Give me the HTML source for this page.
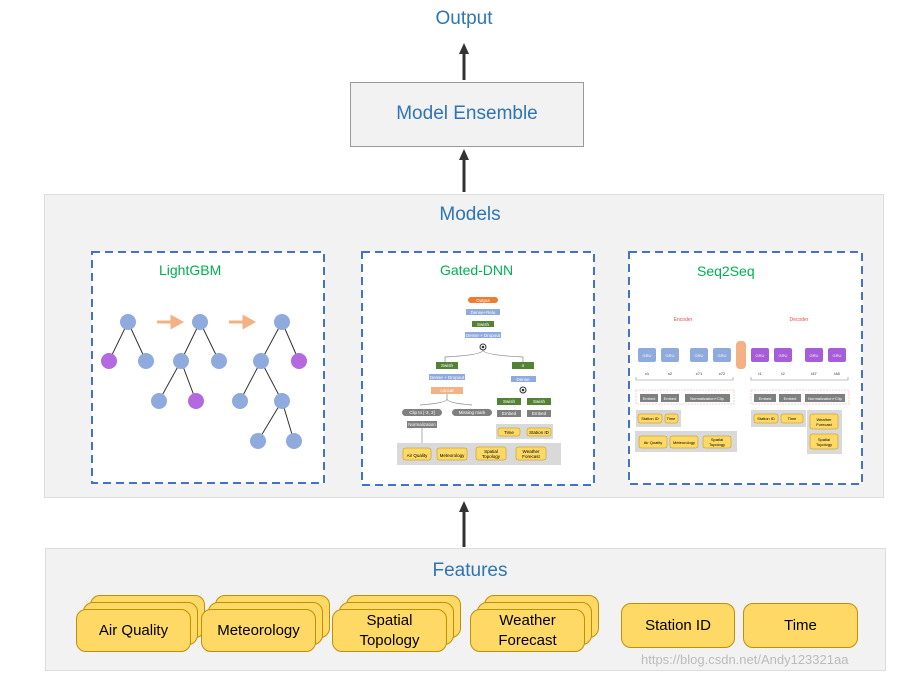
<!DOCTYPE html>
<html><head><meta charset="utf-8"><style>
body{margin:0;width:903px;height:678px;background:#fff;position:relative;overflow:hidden;font-family:"Liberation Sans",sans-serif}
.a{position:absolute}
.t{color:#2E75B6;font-size:19px;text-align:center}
.panel{background:#f2f2f2;border:1px solid #dcdcdc}
.f{position:absolute;background:#FFD966;border:1px solid #BF9000;border-radius:10px;box-sizing:border-box}
.fl{display:flex;align-items:center;justify-content:center;text-align:center;font-size:15px;color:#000;line-height:20px}
</style></head><body>
<div class="a t" style="left:364px;top:8px;width:200px">Output</div>
<svg class="a" style="left:0;top:0" width="903" height="678">
<defs><marker id="ah" markerUnits="userSpaceOnUse" markerWidth="12" markerHeight="12" refX="2" refY="6" orient="auto"><path d="M0,1 L11,6 L0,11z" fill="#333"/></marker></defs>
<line x1="464" y1="80" x2="464" y2="52" stroke="#333" stroke-width="3" marker-end="url(#ah)"/>
<line x1="464" y1="192" x2="464" y2="158" stroke="#333" stroke-width="3" marker-end="url(#ah)"/>
<line x1="464" y1="547" x2="464" y2="510" stroke="#333" stroke-width="3" marker-end="url(#ah)"/>
</svg>
<div class="a" style="left:350px;top:82px;width:232px;height:63px;background:#f2f2f2;border:1px solid #999"></div>
<div class="a t" style="left:350px;top:103px;width:234px">Model Ensemble</div>
<div class="a panel" style="left:44px;top:194px;width:838px;height:302px"></div>
<div class="a t" style="left:370px;top:204px;width:200px">Models</div>
<svg class="a" style="left:0;top:0" width="903" height="678">
<g fill="#fff" stroke="#4472C4" stroke-width="2" stroke-dasharray="8,5">
<rect x="92" y="252" width="232" height="231"/>
<rect x="362" y="252" width="232" height="233"/>
<rect x="629" y="252" width="233" height="232"/>
</g></svg>
<div class="a" style="left:159px;top:262px;color:#00B050;font-size:14px">LightGBM</div>
<div class="a" style="left:440px;top:262px;color:#00B050;font-size:14px">Gated-DNN</div>
<div class="a" style="left:697px;top:263px;color:#00B050;font-size:14px">Seq2Seq</div>
<svg class="a" style="left:0;top:0" width="903" height="678">
<g stroke="#333" stroke-width="1">
<line x1="128" y1="322" x2="109" y2="361"/><line x1="128" y1="322" x2="146" y2="361"/>
<line x1="200" y1="322" x2="181" y2="361"/><line x1="200" y1="322" x2="219" y2="361"/>
<line x1="181" y1="361" x2="159" y2="401"/><line x1="181" y1="361" x2="196" y2="401"/>
<line x1="282" y1="322" x2="261" y2="361"/><line x1="282" y1="322" x2="299" y2="361"/>
<line x1="261" y1="361" x2="240" y2="401"/><line x1="261" y1="361" x2="282" y2="401"/>
<line x1="282" y1="401" x2="258" y2="441"/><line x1="282" y1="401" x2="294" y2="441"/>
</g>
<g fill="#8FAADC">
<circle cx="128" cy="322" r="8"/><circle cx="146" cy="361" r="8"/>
<circle cx="200" cy="322" r="8"/><circle cx="181" cy="361" r="8"/><circle cx="219" cy="361" r="8"/><circle cx="159" cy="401" r="8"/>
<circle cx="282" cy="322" r="8"/><circle cx="261" cy="361" r="8"/><circle cx="240" cy="401" r="8"/><circle cx="282" cy="401" r="8"/><circle cx="258" cy="441" r="8"/><circle cx="294" cy="441" r="8"/>
</g>
<g fill="#B469E0"><circle cx="109" cy="361" r="8"/><circle cx="196" cy="401" r="8"/><circle cx="299" cy="361" r="8"/></g>
<g stroke="#F4B183" stroke-width="3" fill="#F4B183"><line x1="157" y1="322" x2="174" y2="322"/><path d="M172,317 L181,322 L172,327z"/>
<line x1="229" y1="322" x2="246" y2="322"/><path d="M244,317 L253,322 L244,327z"/></g>
<g font-size="4.5" fill="#fff" text-anchor="middle">
<rect x="468" y="297" width="30" height="6" rx="3" fill="#ED7D31"/><text x="483" y="302">Output</text>
<rect x="466" y="309" width="34" height="6" fill="#8FAADC"/><text x="483" y="314">Dense+Relu</text>
<rect x="472" y="321" width="22" height="6" fill="#548235"/><text x="483" y="326">Swish</text>
<rect x="465" y="332" width="36" height="6" fill="#8FAADC"/><text x="483" y="337">Dense + Dropout</text>
<circle cx="483" cy="347" r="3" fill="#fff" stroke="#333"/><circle cx="483" cy="347" r="1.3" fill="#333"/>
<path d="M483,350 Q483,355 445,357 L445,362 M483,350 Q483,355 523,357 L523,362" stroke="#888" fill="none" stroke-width=".7"/>
<rect x="436" y="362" width="22" height="7" fill="#548235"/><text x="447" y="367">Swish</text>
<rect x="429" y="374" width="36" height="6" fill="#8FAADC"/><text x="447" y="379">Dense + Dropout</text>
<rect x="431" y="387" width="32" height="7" fill="#F4B183"/><text x="447" y="392">concat</text>
<path d="M447,394 L447,399 Q447,403 420,405 M447,399 Q447,403 472,405" stroke="#888" fill="none" stroke-width=".7"/>
<rect x="402" y="409" width="40" height="7" rx="3.5" fill="#7f7f7f"/><text x="422" y="414">Clip to [-3, 3]</text>
<rect x="452" y="409" width="40" height="7" rx="3.5" fill="#7f7f7f"/><text x="472" y="414">Missing mark</text>
<rect x="407" y="421" width="30" height="7" fill="#7f7f7f"/><text x="422" y="426">Normalization</text>
<line x1="422" y1="428" x2="422" y2="443" stroke="#888" stroke-width=".7"/>
<rect x="512" y="362" width="22" height="7" fill="#548235"/><text x="523" y="367">σ</text>
<rect x="511" y="376" width="25" height="6" fill="#8FAADC"/><text x="523" y="381">Dense</text>
<circle cx="523" cy="390" r="3" fill="#fff" stroke="#333"/><circle cx="523" cy="390" r="1.3" fill="#333"/>
<rect x="497" y="398" width="24" height="7" fill="#548235"/><text x="509" y="403">Swish</text>
<rect x="527" y="398" width="24" height="7" fill="#548235"/><text x="539" y="403">Swish</text>
<rect x="497" y="410" width="24" height="7" fill="#7f7f7f"/><text x="509" y="415">Embed</text>
<rect x="527" y="410" width="24" height="7" fill="#7f7f7f"/><text x="539" y="415">Embed</text>
<rect x="496" y="424" width="57" height="15" fill="#d9d9d9"/>
<rect x="498" y="428" width="22" height="8" rx="2" fill="#FFD966" stroke="#BF9000" stroke-width=".5"/><text x="509" y="434" fill="#000">Time</text>
<rect x="527" y="428" width="24" height="8" rx="2" fill="#FFD966" stroke="#BF9000" stroke-width=".5"/><text x="539" y="434" fill="#000">Station ID</text>
<rect x="397" y="443" width="164" height="22" fill="#d9d9d9"/>
</g>
<g font-size="4.5" text-anchor="middle" fill="#000">
<rect x="403" y="448" width="28" height="12" rx="2" fill="#FFD966" stroke="#BF9000" stroke-width=".5"/><text x="417" y="457">Air Quality</text>
<rect x="437" y="448" width="30" height="12" rx="2" fill="#FFD966" stroke="#BF9000" stroke-width=".5"/><text x="452" y="457">Meteorology</text>
<rect x="476" y="447" width="30" height="13" rx="2" fill="#FFD966" stroke="#BF9000" stroke-width=".5"/><text x="491" y="453">Spatial</text><text x="491" y="458">Topology</text>
<rect x="516" y="447" width="30" height="13" rx="2" fill="#FFD966" stroke="#BF9000" stroke-width=".5"/><text x="531" y="453">Weather</text><text x="531" y="458">Forecast</text>
</g>
<g font-size="4" text-anchor="middle">
<text x="683" y="321" fill="#E05050" font-size="5">Encoder</text>
<text x="799" y="321" fill="#E05050" font-size="5">Decoder</text>
<g fill="#8FAADC"><rect x="638" y="348" width="18" height="14" rx="2"/><rect x="661" y="348" width="18" height="14" rx="2"/><rect x="690" y="348" width="18" height="14" rx="2"/><rect x="713" y="348" width="18" height="14" rx="2"/></g>
<rect x="736" y="341" width="10" height="28" rx="4" fill="#F4B183"/>
<g fill="#A75CD8"><rect x="751" y="348" width="18" height="14" rx="2"/><rect x="774" y="348" width="18" height="14" rx="2"/><rect x="805" y="348" width="18" height="14" rx="2"/><rect x="828" y="348" width="18" height="14" rx="2"/></g>
<g fill="#fff"><text x="647" y="357">GRU</text><text x="670" y="357">GRU</text><text x="699" y="357">GRU</text><text x="722" y="357">GRU</text><text x="760" y="357">GRU</text><text x="783" y="357">GRU</text><text x="814" y="357">GRU</text><text x="837" y="357">GRU</text></g>
<g fill="#333"><text x="647" y="375">x1</text><text x="670" y="375">x2</text><text x="699" y="375">x71</text><text x="722" y="375">x72</text><text x="760" y="375">t1</text><text x="783" y="375">t2</text><text x="814" y="375">t47</text><text x="837" y="375">t48</text></g>
<path d="M636,377 L636,380 L733,380 L733,377 M751,377 L751,380 L848,380 L848,377" stroke="#888" fill="none" stroke-width=".6"/>
<rect x="636" y="390" width="98" height="14" fill="none" stroke="#f4a0a0" stroke-dasharray="2,1" stroke-width=".5"/>
<rect x="751" y="390" width="98" height="14" fill="none" stroke="#f4a0a0" stroke-dasharray="2,1" stroke-width=".5"/>
<g fill="#7f7f7f"><rect x="640" y="394" width="18" height="8"/><rect x="661" y="394" width="18" height="8"/><rect x="685" y="394" width="45" height="8"/>
<rect x="754" y="394" width="22" height="8"/><rect x="779" y="394" width="22" height="8"/><rect x="805" y="394" width="40" height="8"/></g>
<g fill="#fff"><text x="649" y="400">Embed</text><text x="670" y="400">Embed</text><text x="707" y="400">Normalization+Clip</text><text x="765" y="400">Embed</text><text x="790" y="400">Embed</text><text x="825" y="400">Normalization+Clip</text></g>
<rect x="636" y="410" width="45" height="17" fill="#d9d9d9"/><rect x="751" y="410" width="55" height="17" fill="#d9d9d9"/>
<rect x="635" y="431" width="102" height="21" fill="#d9d9d9"/><rect x="807" y="410" width="35" height="44" fill="#d9d9d9"/>
<g fill="#FFD966" stroke="#BF9000" stroke-width=".5"><rect x="638" y="414" width="24" height="9" rx="2"/><rect x="665" y="414" width="13" height="9" rx="2"/>
<rect x="754" y="414" width="24" height="9" rx="2"/><rect x="781" y="414" width="22" height="9" rx="2"/>
<rect x="639" y="436" width="28" height="12" rx="2"/><rect x="670" y="436" width="28" height="12" rx="2"/><rect x="703" y="436" width="28" height="12" rx="2"/>
<rect x="810" y="414" width="28" height="15" rx="2"/><rect x="810" y="434" width="28" height="15" rx="2"/></g>
<g fill="#000"><text x="650" y="420">Station ID</text><text x="671" y="420">Time</text><text x="766" y="420">Station ID</text><text x="792" y="420">Time</text>
<text x="653" y="444">Air Quality</text><text x="684" y="444">Meteorology</text><text x="717" y="441">Spatial</text><text x="717" y="446">Topology</text>
<text x="824" y="421">Weather</text><text x="824" y="426">Forecast</text><text x="824" y="441">Spatial</text><text x="824" y="446">Topology</text></g>
</g>
</svg>
<div class="a panel" style="left:45px;top:548px;width:839px;height:121px"></div>
<div class="a t" style="left:370px;top:560px;width:200px">Features</div>
<div class="f" style="left:90px;top:595px;width:115px;height:43px"></div>
<div class="f" style="left:83px;top:602px;width:115px;height:43px"></div>
<div class="f fl" style="left:76px;top:609px;width:115px;height:43px">Air Quality</div>
<div class="f" style="left:215px;top:595px;width:115px;height:43px"></div>
<div class="f" style="left:208px;top:602px;width:115px;height:43px"></div>
<div class="f fl" style="left:201px;top:609px;width:115px;height:43px">Meteorology</div>
<div class="f" style="left:346px;top:595px;width:115px;height:43px"></div>
<div class="f" style="left:339px;top:602px;width:115px;height:43px"></div>
<div class="f fl" style="left:332px;top:609px;width:115px;height:43px">Spatial<br>Topology</div>
<div class="f" style="left:484px;top:595px;width:115px;height:43px"></div>
<div class="f" style="left:477px;top:602px;width:115px;height:43px"></div>
<div class="f fl" style="left:470px;top:609px;width:115px;height:43px">Weather<br>Forecast</div>
<div class="f fl" style="left:621px;top:603px;width:114px;height:45px">Station ID</div>
<div class="f fl" style="left:743px;top:603px;width:115px;height:45px">Time</div>
<div class="a" style="left:641px;top:652px;font-size:13px;color:#bbb">https://blog.csdn.net/Andy123321aa</div>
</body></html>
